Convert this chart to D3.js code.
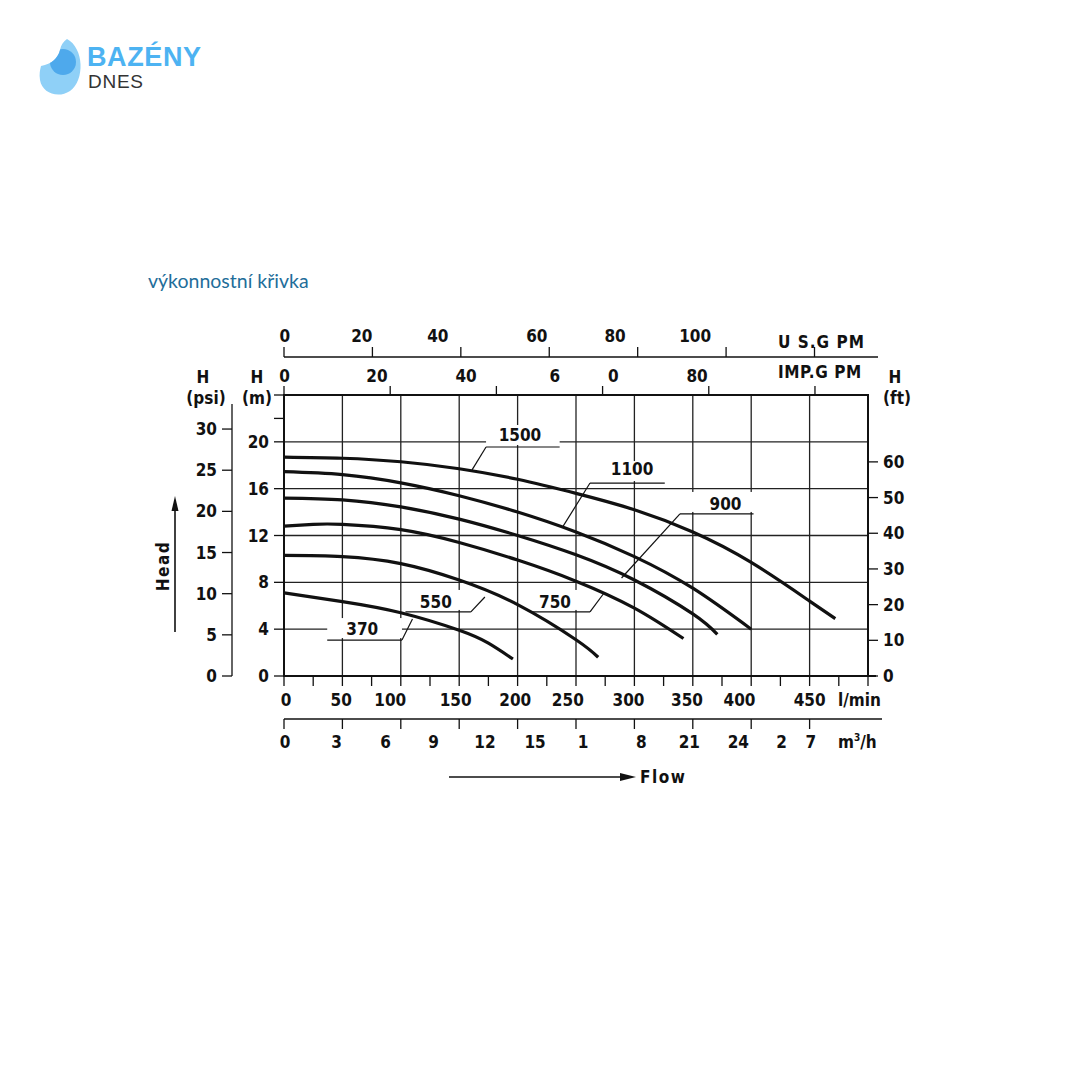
<!DOCTYPE html>
<html><head><meta charset="utf-8">
<script src="https://cdn.jsdelivr.net/npm/d3@7/dist/d3.min.js"></script>
<style>
html,body{margin:0;padding:0;background:#fff;}
svg{display:block;}
.ax{font-family:"DejaVu Sans Condensed","DejaVu Sans",sans-serif;font-weight:bold;font-size:17px;fill:#111;}
</style></head>
<body>
<svg id="c" width="1080" height="1080"></svg>
<script>
// ---------------- DATA ----------------
const lminTicks = [0,50,100,150,200,250,300,350,400,450,500];
const lminLabels = ["0","50","100","150","200","250","300","350","400","450"];
const lminLabelAt = [1.7,49,91,147,198,243,295,345,390,450];          // l/min
const m3hTicks = [0,3,6,9,12,15,18,21,24,27];
const m3hLabels = ["0","3","6","9","12","15","1","8","21","24","2","7"];
const m3hLabelAt = [1,45,87,128,172,215,256,306,347,389,426,451];      // l/min
const usTicks = [0,20,40,60,80,100,120];
const usLabels = ["0","20","40","60","80","100"];
const usLabelAt = [0.2,17.6,34.8,57.2,74.9,93.0];                      // US GPM
const impTicks = [0,20,40,60,80,100];
const impLabels = ["0","20","40","6","0","80"];
const impLabelAt = [0.1,17.5,34.3,51.0,62.0,77.8];                     // IMP GPM
const mTicks = [0,4,8,12,16,20];
const mMinorTicks = [22,24];
const psiTicks = [0,5,10,15,20,25,30];
const ftTicks = [0,10,20,30,40,50,60];

// pump curves: flow (l/min) and head (m)
const q1500 = [0,50,100,150,200,250,300,350,400,450,472];
const h1500 = [18.7,18.6,18.3,17.7,16.8,15.6,14.2,12.3,9.7,6.4,4.9];
const q1100 = [0,50,100,150,200,250,300,350,400];
const h1100 = [17.45,17.2,16.5,15.4,14.0,12.3,10.2,7.5,4.0];
const q900 = [0,50,100,150,200,250,300,350,371];
const h900 = [15.2,15.05,14.45,13.4,12.0,10.35,8.2,5.3,3.55];
const q750 = [0,25,50,100,150,200,250,300,342];
const h750 = [12.8,12.95,12.95,12.5,11.4,9.9,8.1,5.8,3.2];
const q550 = [0,50,100,150,200,250,269];
const h550 = [10.3,10.2,9.6,8.2,6.1,3.1,1.6];
const q370 = [0,50,100,150,175,196];
const h370 = [7.1,6.35,5.4,3.9,2.8,1.45];

// curve labels (in data units: l/min, m)
const labelText = ["1500","1100","900","750","550","370"];
const labelQ    = [202,298,378,232,130,67];
const labelH    = [20.5,17.6,14.6,6.23,6.23,3.93];
const lineQ0    = [173,262,339,211,104,37];
const lineQ1    = [236,326,402,262,160,101];
const lineH     = [19.56,16.48,13.84,5.47,5.47,3.07];
const pointQ    = [161,239,289,274,172,110];
const pointH    = [17.6,12.8,8.37,7.09,6.75,4.87];
const pointFromEnd = [false,false,false,true,true,true];

// ---------------- SCALES ----------------
const svg = d3.select("#c");
const x = d3.scaleLinear().domain([0,500]).range([284,868]);
const y = d3.scaleLinear().domain([0,24]).range([676,395]);
const LPM_US = 3.785, LPM_IMP = 4.546, M_PSI = 0.70307, M_FT = 0.3048;
const xUS = g => x(g*LPM_US);
const xIMP = g => x(g*LPM_IMP);
const xM3 = v => x(v*1000/60);
const yPsi = p => y(p*M_PSI);
const yFt = f => y(f*M_FT);

// ---------------- LOGO & TITLE ----------------
const logo = svg.append("g");
const defs = svg.append("defs");
const moonD = "M67,39 C84,48 85,80 70,91 C58,99 42,93 40,80 C39,74 40,70 41,66 C52,64 58,58 60,50 C61,45 63,42 67,39 Z";
defs.append("clipPath").attr("id","moon").append("path").attr("d",moonD);
logo.append("path").attr("d",moonD).attr("fill","#8fd0f7");
logo.append("circle").attr("cx",63).attr("cy",62).attr("r",13).attr("fill","#4ea9ec").attr("clip-path","url(#moon)");
logo.append("text").attr("x",87).attr("y",66).text("BAZÉNY")
  .attr("font-family","Liberation Sans, Arial, sans-serif").attr("font-weight","bold")
  .attr("font-size",27).attr("fill","#4db3f2").attr("textLength",114);
logo.append("text").attr("x",88).attr("y",88).text("DNES")
  .attr("font-family","Liberation Sans, Arial, sans-serif").attr("font-weight","normal")
  .attr("font-size",19).attr("fill","#333").attr("textLength",55);

svg.append("text").attr("x",148).attr("y",288).text("výkonnostní křivka")
  .attr("font-family","Lato, 'Open Sans', sans-serif").attr("font-size",19.5)
  .attr("fill","#1f6e9a");

// ---------------- GRID ----------------
const grid = svg.append("g").attr("stroke","#222").attr("stroke-width",1.3);
lminTicks.slice(1,-1).forEach(v=>{
  grid.append("line").attr("x1",x(v)).attr("x2",x(v)).attr("y1",y(24)).attr("y2",y(0));
});
[4,8,12,16,20].forEach(v=>{
  grid.append("line").attr("x1",x(0)).attr("x2",x(500)).attr("y1",y(v)).attr("y2",y(v));
});

// white label boxes (interrupt grid)
labelText.forEach((t,i)=>{
  svg.append("rect").attr("x",x(lineQ0[i])).attr("width",x(lineQ1[i])-x(lineQ0[i]))
    .attr("y",y(lineH[i])-22).attr("height",20).attr("fill","#fff");
});

// border
svg.append("rect").attr("x",x(0)).attr("y",y(24)).attr("width",x(500)-x(0)).attr("height",y(0)-y(24))
  .attr("fill","none").attr("stroke","#111").attr("stroke-width",2);

// ---------------- CURVES ----------------
const line = d3.line().x(d=>x(d[0])).y(d=>y(d[1])).curve(d3.curveNatural);
[[q1500,h1500],[q1100,h1100],[q900,h900],[q750,h750],[q550,h550],[q370,h370]].forEach(([q,h])=>{
  svg.append("path").attr("d",line(q.map((v,i)=>[v,h[i]])))
    .attr("fill","none").attr("stroke","#111").attr("stroke-width",3.2).attr("stroke-linecap","butt");
});

// leader lines & labels
labelText.forEach((t,i)=>{
  const sx = pointFromEnd[i] ? x(lineQ1[i]) : x(lineQ0[i]);
  svg.append("line").attr("x1",x(lineQ0[i])).attr("x2",x(lineQ1[i])).attr("y1",y(lineH[i])).attr("y2",y(lineH[i]))
    .attr("stroke","#111").attr("stroke-width",1.2);
  svg.append("line").attr("x1",sx).attr("y1",y(lineH[i])).attr("x2",x(pointQ[i])).attr("y2",y(pointH[i]))
    .attr("stroke","#111").attr("stroke-width",1.2);
  svg.append("text").attr("class","ax").attr("x",x(labelQ[i])).attr("y",y(labelH[i])+5)
    .attr("text-anchor","middle").attr("font-size",13).text(t);
});

// ---------------- AXES ----------------
const ax = svg.append("g").attr("stroke","#111").attr("stroke-width",1.3);
// bottom l/min
ax.append("line").attr("x1",x(0)).attr("x2",876).attr("y1",y(0)).attr("y2",y(0)).attr("stroke-width",2);
d3.range(0,501,25).forEach(v=>{
  ax.append("line").attr("x1",x(v)).attr("x2",x(v)).attr("y1",y(0)).attr("y2",y(0)+10);
});
lminLabels.forEach((t,i)=>{
  svg.append("text").attr("class","ax").attr("x",x(lminLabelAt[i])).attr("y",706).attr("text-anchor","middle").text(t);
});
svg.append("text").attr("class","ax").attr("x",838).attr("y",706).attr("font-weight","normal").attr("font-size",17).text("l/min");

// m3/h
ax.append("line").attr("x1",x(0)).attr("x2",882).attr("y1",719).attr("y2",719);
m3hTicks.forEach(v=>{
  ax.append("line").attr("x1",xM3(v)).attr("x2",xM3(v)).attr("y1",719).attr("y2",729);
});
m3hLabels.forEach((t,i)=>{
  svg.append("text").attr("class","ax").attr("x",x(m3hLabelAt[i])).attr("y",748).attr("text-anchor","middle").text(t);
});
const m3 = svg.append("text").attr("class","ax").attr("x",838).attr("y",748);
m3.append("tspan").text("m");
m3.append("tspan").attr("dy",-7).attr("font-size",10).text("3");
m3.append("tspan").attr("dy",7).text("/h");

// top US GPM
ax.append("line").attr("x1",x(0)).attr("x2",878).attr("y1",357).attr("y2",357);
usTicks.forEach(v=>{
  ax.append("line").attr("x1",xUS(v)).attr("x2",xUS(v)).attr("y1",357).attr("y2",347);
});
usLabels.forEach((t,i)=>{
  svg.append("text").attr("class","ax").attr("x",xUS(usLabelAt[i])).attr("y",342).attr("text-anchor","middle").text(t);
});
svg.append("text").attr("class","ax").attr("x",778).attr("y",348).attr("letter-spacing",1).text("U S.G PM");

// top IMP GPM
impTicks.forEach(v=>{
  ax.append("line").attr("x1",xIMP(v)).attr("x2",xIMP(v)).attr("y1",y(24)).attr("y2",y(24)-9);
});
impLabels.forEach((t,i)=>{
  svg.append("text").attr("class","ax").attr("x",xIMP(impLabelAt[i])).attr("y",382).attr("text-anchor","middle").text(t);
});
svg.append("text").attr("class","ax").attr("x",778).attr("y",378).attr("letter-spacing",0.6).text("IMP.G PM");

// left m axis
mTicks.concat(mMinorTicks).forEach(v=>{
  ax.append("line").attr("x1",x(0)-10).attr("x2",x(0)).attr("y1",y(v)).attr("y2",y(v));
});
mTicks.forEach(v=>{
  svg.append("text").attr("class","ax").attr("x",269).attr("y",y(v)+6).attr("text-anchor","end").text(v);
});

// psi axis
ax.append("line").attr("x1",232).attr("x2",232).attr("y1",404).attr("y2",y(0));
psiTicks.forEach(v=>{
  ax.append("line").attr("x1",222).attr("x2",232).attr("y1",yPsi(v)).attr("y2",yPsi(v));
  svg.append("text").attr("class","ax").attr("x",217).attr("y",yPsi(v)+6).attr("text-anchor","end").text(v);
});

// ft axis
ftTicks.forEach(v=>{
  ax.append("line").attr("x1",x(500)).attr("x2",x(500)+10).attr("y1",yFt(v)).attr("y2",yFt(v));
  svg.append("text").attr("class","ax").attr("x",883).attr("y",yFt(v)+6).text(v);
});

// headers
[["H",203,383],["(psi)",206,404],["H",257,383],["(m)",257,404],["H",895,383],["(ft)",897,404]].forEach(([t,cx,cy])=>{
  svg.append("text").attr("class","ax").attr("x",cx).attr("y",cy).attr("text-anchor","middle").text(t);
});

// Head arrow + label
svg.append("line").attr("x1",175).attr("x2",175).attr("y1",632).attr("y2",508).attr("stroke","#111").attr("stroke-width",1.6);
svg.append("path").attr("d","M175,496 L171.5,511 L178.5,511 Z").attr("fill","#111");
svg.append("text").attr("class","ax").attr("transform","translate(169,566) rotate(-90)")
  .attr("text-anchor","middle").attr("font-size",16).attr("letter-spacing",1.5).text("Head");

// Flow arrow + label
svg.append("line").attr("x1",449).attr("x2",622).attr("y1",777).attr("y2",777).attr("stroke","#111").attr("stroke-width",1.6);
svg.append("path").attr("d","M636,777 L620,773 L620,781 Z").attr("fill","#111");
svg.append("text").attr("class","ax").attr("x",640).attr("y",783).attr("font-size",16).attr("letter-spacing",1.5).text("Flow");
</script>
</body></html>
